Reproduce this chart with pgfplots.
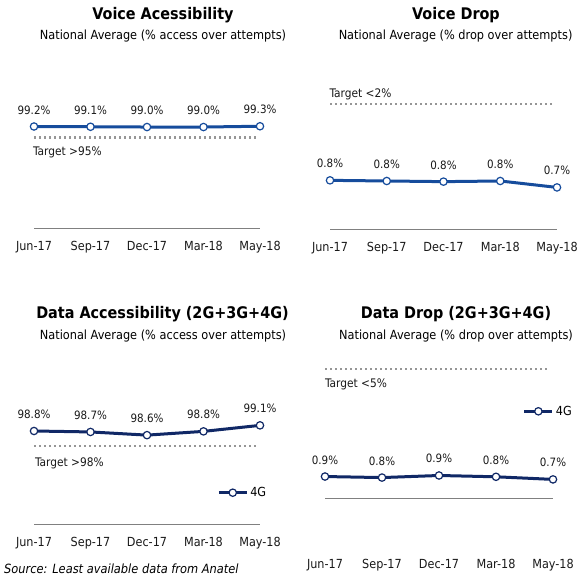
\documentclass[border=0pt]{standalone}
\usepackage{fontspec}
\setmainfont{DejaVu Sans Condensed}
\usepackage{pgfplots}
\pgfplotsset{compat=1.18}
\usepackage{pgfplotstable}
\definecolor{lblue}{RGB}{22,76,156}
\definecolor{navy}{RGB}{16,40,102}
\definecolor{basegray}{RGB}{128,128,128}
\definecolor{dotgray}{RGB}{150,150,150}
\newcommand\fs[1]{\fontsize{#1}{#1}\selectfont}

\pgfplotstableread{
x y lab
0 99.2 99.2
1 99.1 99.1
2 99.0 99.0
3 99.0 99.0
4 99.3 99.3
}\tva
\pgfplotstableread{
x y lab
0 0.81 0.8
1 0.80 0.8
2 0.79 0.8
3 0.80 0.8
4 0.70 0.7
}\tvd
\pgfplotstableread{
x y lab
0 98.80 98.8
1 98.75 98.7
2 98.58 98.6
3 98.78 98.8
4 99.10 99.1
}\tda
\pgfplotstableread{
x y lab
0 0.88 0.9
1 0.84 0.8
2 0.92 0.9
3 0.87 0.8
4 0.77 0.7
}\tdd

\pgfplotsset{
 panel/.style={
  scale only axis, width=226pt, height=150pt,
  xmin=0, xmax=4, clip=false,
  axis x line=bottom, axis y line=none,
  axis line style={-, draw=basegray, line width=0.9pt},
  xtick={0,1,2,3,4}, xticklabels={Jun-17,Sep-17,Dec-17,Mar-18,May-18},
  major tick length=0pt, ytick=\empty,
  xticklabel style={anchor=base, yshift=-22pt, font=\fs{12.5}, text=black!90, inner sep=0pt},
  anchor=south west,
  legend style={draw=none, fill=none, inner sep=0pt, font=\fs{12.5}, anchor=west,
    /tikz/every even column/.append style={column sep=0pt}},
  legend cell align=left,
  legend image code/.code={\draw[mark repeat=2, mark phase=2, ##1] plot coordinates {(0pt,0pt) (14pt,0pt) (28pt,0pt)};},
 },
 series/.style={color=#1, line width=3pt, mark=*, mark size=3.7pt,
   mark options={fill=white, draw=#1, line width=1.2pt},
   nodes near coords={\pgfplotspointmeta\%}, point meta=explicit symbolic,
   every node near coord/.append style={font=\fs{11.5}, text=black!90, anchor=base, yshift=12.5pt, inner sep=0pt}},
 target/.style={dotgray, line width=2.2pt, dash pattern=on 2pt off 3pt, forget plot},
}

\begin{document}
\begin{tikzpicture}
\useasboundingbox (0,0) rectangle (586pt,-578pt);

% Panel 1
\begin{axis}[panel, at={(34pt,-228pt)}, ymin=60.63, ymax=117.63]
\addplot[target] coordinates {(0,95) (3.96,95)};
\node[anchor=base west, inner sep=0pt, font=\fs{11.8}, text=black!90, yshift=-18pt, xshift=-1pt] at (axis cs:0,95) {Target >95\%};
\addplot[series=lblue] table[x=x, y=y, meta=lab] {\tva};
\end{axis}

% Panel 2
\begin{axis}[panel, width=227pt, at={(330pt,-229pt)}, ymin=0.052, ymax=2.389]
\addplot[target] coordinates {(0,2) (3.93,2)};
\node[anchor=base west, inner sep=0pt, font=\fs{11.8}, text=black!90, yshift=6.3pt, xshift=-0.5pt] at (axis cs:0,2) {Target <2\%};
\addplot[series=lblue] table[x=x, y=y, meta=lab] {\tvd};
\end{axis}

% Panel 3
\begin{axis}[panel, at={(34pt,-524.3pt)}, ymin=93.827, ymax=101.822,
  legend style={at={(0.81,0.2107)}}]
\addplot[target] coordinates {(0,98) (3.96,98)};
\node[anchor=base west, inner sep=0pt, font=\fs{11.8}, text=black!90, yshift=-20.7pt, xshift=1pt] at (axis cs:0,98) {Target >98\%};
\addplot[series=navy] table[x=x, y=y, meta=lab] {\tda};
\addlegendentry{4G}
\end{axis}

% Panel 4
\begin{axis}[panel, width=228pt, at={(325pt,-498.3pt)}, ymin=0.046, ymax=5.791,
  xticklabel style={yshift=-48pt},
  legend style={at={(0.867,0.58)}}]
\addplot[target] coordinates {(0,5) (3.93,5)};
\node[anchor=base west, inner sep=0pt, font=\fs{11.8}, text=black!90, yshift=-18.3pt] at (axis cs:0,5) {Target <5\%};
\addplot[series=navy] table[x=x, y=y, meta=lab] {\tdd};
\addlegendentry{4G}
\end{axis}

% Titles
\begin{scope}[every node/.style={inner sep=0pt, anchor=base, text=black}]
\node[font=\fs{16}\bfseries] at (163pt,-19.3pt) {Voice Acessibility};
\node[font=\fs{12.6}] at (163pt,-40pt) {National Average (\% access over attempts)};
\node[font=\fs{16}\bfseries] at (456pt,-19.3pt) {Voice Drop};
\node[font=\fs{12.6}] at (455.6pt,-40pt) {National Average (\% drop over attempts)};
\node[font=\fs{16}\bfseries] at (162.5pt,-318.3pt) {Data Accessibility (2G+3G+4G)};
\node[font=\fs{12.6}] at (163pt,-339.3pt) {National Average (\% access over attempts)};
\node[font=\fs{16}\bfseries] at (456pt,-318.3pt) {Data Drop (2G+3G+4G)};
\node[font=\fs{12.6}] at (456pt,-339.3pt) {National Average (\% drop over attempts)};
\node[font=\fs{12.7}\itshape, anchor=base west] at (4pt,-573pt) {Source: Least available data from Anatel};
\end{scope}
\end{tikzpicture}
\end{document}
